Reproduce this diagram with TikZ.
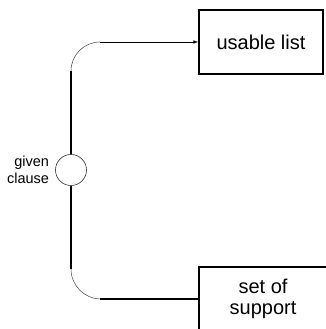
\documentclass[tikz,border=0pt]{standalone}
\usepackage{fontspec}
\setmainfont{Liberation Sans}
\usetikzlibrary{positioning, arrows.meta}

\begin{document}
\begin{tikzpicture}[x=1pt, y=1pt,
    box/.style={draw, line width=1.3pt, inner sep=0pt, align=center,
        minimum height=64pt, font=\fontsize{20}{21}\selectfont},
    feed/.style={line width=1.2pt},
    bendline/.style={line width=0.5pt, black!75},
    thinline/.style={line width=0.6pt}]
    \useasboundingbox (0,0) rectangle (325,329);

    % the two lists, and the given clause between them
    \node[box, minimum width=124pt] (usable) at (261,287) {usable list};
    \node[box, minimum width=128pt] (sos) at (263,30) {set of\\support};
    \node[circle, draw=black!80, line width=0.6pt, minimum size=31pt,
        inner sep=0pt] (given) at (71,159) {};
    \node[left=6pt of given, align=right, inner sep=0pt,
        font=\fontsize{14.5}{17}\selectfont] (givenlabel) {given\\clause};

    % corners of the connector
    \coordinate (topbend) at (71,258);
    \coordinate (topend) at (100,287);
    \coordinate (lowbend) at (71,60);
    \coordinate (lowend) at (100,30);

    % up to the usable list
    \draw[feed] (given.north) -- (topbend);
    \draw[bendline] (topbend) arc[start angle=180, end angle=90, radius=29pt];
    \draw[thinline, -{Latex[length=5pt, width=3.5pt]}] (topend) -- (usable.west);

    % down to the set of support
    \draw[feed] (given.south) -- (lowbend);
    \draw[bendline] (lowbend) arc[start angle=180, end angle=270, radius=30pt];
    \draw[feed] (lowend) -- (sos.west);
\end{tikzpicture}
\end{document}
